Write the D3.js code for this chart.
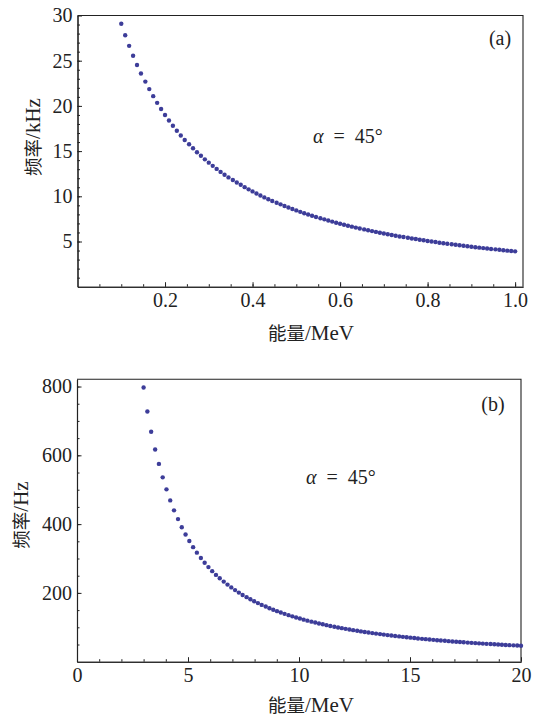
<!DOCTYPE html>
<html>
<head>
<meta charset="utf-8">
<script src="https://cdn.jsdelivr.net/npm/d3@7"></script>
<style>
    body { margin: 0; background: #fff; }
</style>
</head>
<body>
<div id="chart"></div>
<script>
// panel (a): energy in MeV, frequency in kHz
const energyA = [0.100, 0.109, 0.118, 0.127, 0.136, 0.145, 0.155, 0.164, 0.173, 0.182,
    0.191, 0.200, 0.209, 0.218, 0.227, 0.236, 0.245, 0.255, 0.264, 0.273,
    0.282, 0.291, 0.300, 0.309, 0.318, 0.327, 0.336, 0.345, 0.355, 0.364,
    0.373, 0.382, 0.391, 0.400, 0.409, 0.418, 0.427, 0.436, 0.445, 0.455,
    0.464, 0.473, 0.482, 0.491, 0.500, 0.509, 0.518, 0.527, 0.536, 0.545,
    0.555, 0.564, 0.573, 0.582, 0.591, 0.600, 0.609, 0.618, 0.627, 0.636,
    0.645, 0.655, 0.664, 0.673, 0.682, 0.691, 0.700, 0.709, 0.718, 0.727,
    0.736, 0.745, 0.755, 0.764, 0.773, 0.782, 0.791, 0.800, 0.809, 0.818,
    0.827, 0.836, 0.845, 0.855, 0.864, 0.873, 0.882, 0.891, 0.900, 0.909,
    0.918, 0.927, 0.936, 0.945, 0.955, 0.964, 0.973, 0.982, 0.991, 1.000];
const freqA = [29.08, 27.82, 26.64, 25.55, 24.53, 23.58, 22.69, 21.86, 21.08, 20.34,
    19.65, 19.00, 18.39, 17.80, 17.25, 16.73, 16.23, 15.76, 15.31, 14.88,
    14.48, 14.09, 13.72, 13.37, 13.03, 12.70, 12.39, 12.09, 11.81, 11.53,
    11.27, 11.01, 10.77, 10.54, 10.31, 10.09, 9.88, 9.68, 9.48, 9.29,
    9.11, 8.93, 8.76, 8.60, 8.44, 8.28, 8.13, 7.99, 7.85, 7.71,
    7.58, 7.45, 7.32, 7.20, 7.08, 6.97, 6.86, 6.75, 6.64, 6.54,
    6.44, 6.34, 6.24, 6.15, 6.06, 5.97, 5.89, 5.80, 5.72, 5.64,
    5.56, 5.49, 5.41, 5.34, 5.27, 5.20, 5.13, 5.06, 5.00, 4.94,
    4.87, 4.81, 4.75, 4.69, 4.64, 4.58, 4.53, 4.47, 4.42, 4.37,
    4.32, 4.27, 4.22, 4.17, 4.13, 4.08, 4.04, 3.99, 3.95, 3.91];

// panel (b): energy in MeV, frequency in Hz
const energyB = [3.00, 3.17, 3.34, 3.52, 3.69, 3.86, 4.03, 4.20, 4.37, 4.55,
    4.72, 4.89, 5.06, 5.23, 5.40, 5.58, 5.75, 5.92, 6.09, 6.26,
    6.43, 6.61, 6.78, 6.95, 7.12, 7.29, 7.46, 7.64, 7.81, 7.98,
    8.15, 8.32, 8.50, 8.67, 8.84, 9.01, 9.18, 9.35, 9.53, 9.70,
    9.87, 10.04, 10.21, 10.38, 10.56, 10.73, 10.90, 11.07, 11.24, 11.41,
    11.59, 11.76, 11.93, 12.10, 12.27, 12.44, 12.62, 12.79, 12.96, 13.13,
    13.30, 13.47, 13.65, 13.82, 13.99, 14.16, 14.33, 14.51, 14.68, 14.85,
    15.02, 15.19, 15.36, 15.54, 15.71, 15.88, 16.05, 16.22, 16.39, 16.57,
    16.74, 16.91, 17.08, 17.25, 17.42, 17.60, 17.77, 17.94, 18.11, 18.28,
    18.45, 18.63, 18.80, 18.97, 19.14, 19.31, 19.48, 19.66, 19.83, 20.00];
const freqB = [797.0, 727.5, 668.3, 617.0, 575.0, 536.0, 501.0, 469.0, 440.0, 414.5,
    391.0, 370.0, 351.0, 333.0, 317.0, 301.5, 287.8, 275.0, 263.2, 252.4,
    242.4, 232.9, 224.1, 216.0, 208.2, 200.9, 194.1, 187.7, 181.5, 175.8,
    170.3, 165.2, 160.3, 155.6, 151.2, 146.9, 142.9, 139.1, 135.4, 131.9,
    128.6, 125.4, 122.3, 119.3, 116.5, 113.8, 111.2, 108.7, 106.3, 104.0,
    101.7, 99.6, 97.5, 95.5, 93.6, 91.7, 89.9, 88.1, 86.5, 84.8,
    83.2, 81.7, 80.2, 78.8, 77.4, 76.1, 74.7, 73.5, 72.2, 71.0,
    69.9, 68.7, 67.6, 66.5, 65.5, 64.5, 63.5, 62.5, 61.6, 60.7,
    59.8, 58.9, 58.1, 57.2, 56.4, 55.6, 54.8, 54.1, 53.4, 52.6,
    51.9, 51.3, 50.6, 49.9, 49.3, 48.7, 48.1, 47.5, 46.9, 46.3];

// tick labels
const xTicksA = [0.2, 0.4, 0.6, 0.8, 1.0];
const yTicksA = [5, 10, 15, 20, 25, 30];
const xTicksB = [0, 5, 10, 15, 20];
const yTicksB = [200, 400, 600, 800];

const SERIF = "'Liberation Serif', 'DejaVu Serif', serif";
const CJK = "'Noto Sans CJK SC', 'Noto Sans CJK JP', sans-serif";

class DotPanel {

    constructor(svg, config) {
        this.svg = svg;
        Object.assign(this, config);
        this.displayData = this.energy.map((e, i) => ({e: e, f: this.freq[i]}));

        this.initVis();
    }

    initVis() {
        let vis = this;

        vis.x = d3.scaleLinear().domain(vis.xDomain).range([vis.left, vis.right]);
        vis.y = d3.scaleLinear().domain(vis.yDomain).range([vis.bottom, vis.top]);

        vis.g = vis.svg.append("g");

        // top and right frame lines (no ticks there)
        vis.g.append("path")
            .attr("d", `M${vis.left},${vis.top}H${vis.right}V${vis.bottom}`)
            .attr("fill", "none")
            .attr("stroke", "#222")
            .attr("stroke-width", 1.1);

        // minor ticks first, majors with labels on top
        let xAxisMinor = d3.axisBottom(vis.x).tickValues(vis.xMinor).tickSize(-2.5).tickFormat("");
        let xAxis = d3.axisBottom(vis.x).tickValues(vis.xTicks).tickSize(-4.5).tickPadding(6)
            .tickFormat(vis.xFormat);
        let yAxisMinor = d3.axisLeft(vis.y).tickValues(vis.yMinor).tickSize(-2.5).tickFormat("");
        let yAxis = d3.axisLeft(vis.y).tickValues(vis.yTicks).tickSize(-4.5).tickPadding(5);

        [[xAxisMinor, "x"], [xAxis, "x"], [yAxisMinor, "y"], [yAxis, "y"]].forEach(([ax, k]) => {
            let a = vis.g.append("g")
                .attr("transform", k === "x" ? `translate(0,${vis.bottom})` : `translate(${vis.left},0)`)
                .call(ax.tickSizeOuter(0))
                .attr("font-family", SERIF)
                .attr("font-size", 20);
            a.select(".domain").attr("stroke", "#222").attr("stroke-width", 1.1);
            a.selectAll(".tick line").attr("stroke", "#222");
            a.selectAll("text")
                .style("font-family", SERIF)
                .style("font-size", "20px")
                .attr("fill", "#222");
        });

        // points
        vis.g.append("g")
            .selectAll("circle")
            .data(vis.displayData)
            .enter().append("circle")
            .attr("cx", d => vis.x(d.e))
            .attr("cy", d => vis.y(d.f))
            .attr("r", 2.2)
            .attr("fill", "#3d3d99");

        // axis titles
        let xt = vis.g.append("text")
            .attr("x", vis.xTitle[0])
            .attr("y", vis.xTitle[1])
            .attr("text-anchor", "middle")
            .style("font-family", SERIF)
            .style("font-size", "21px")
            .attr("fill", "#222");
        xt.append("tspan").style("font-family", CJK).style("font-size", "18.5px").text("能量");
        xt.append("tspan").text("/MeV");

        let yt = vis.g.append("text")
            .attr("transform", `translate(${vis.yTitle[0]},${vis.yTitle[1]}) rotate(-90)`)
            .attr("text-anchor", "middle")
            .style("font-family", SERIF)
            .style("font-size", "21px")
            .attr("fill", "#222");
        yt.append("tspan").style("font-family", CJK).style("font-size", "18.5px").text("频率");
        yt.append("tspan").text(vis.yUnit);

        // panel tag and angle note
        vis.g.append("text")
            .attr("x", vis.tag[0])
            .attr("y", vis.tag[1])
            .attr("text-anchor", "middle")
            .style("font-family", SERIF)
            .style("font-size", "20px")
            .attr("fill", "#222")
            .text(vis.tagText);

        let note = vis.g.append("text")
            .attr("x", vis.note[0])
            .attr("y", vis.note[1])
            .style("font-family", SERIF)
            .style("font-size", "20px")
            .attr("fill", "#222");
        note.append("tspan").style("font-style", "italic").text("α");
        note.append("tspan").text("\u2002=\u200245°");
    }
}

let svg = d3.select("#chart").append("svg")
    .attr("width", 534)
    .attr("height", 722)
    .attr("font-family", SERIF);

new DotPanel(svg, {
    energy: energyA, freq: freqA,
    left: 77.5, right: 523, top: 15.5, bottom: 286.7,
    xDomain: [0, 1.018], yDomain: [0, 30],
    xTicks: xTicksA, yTicks: yTicksA,
    xMinor: d3.range(0.05, 1.01, 0.05), yMinor: d3.range(1, 30, 1),
    xFormat: d3.format(".1f"),
    xTitle: [311, 340], yTitle: [40, 137], yUnit: "/kHz",
    tag: [500, 45], tagText: "(a)",
    note: [313, 143]
});

new DotPanel(svg, {
    energy: energyB, freq: freqB,
    left: 77, right: 521, top: 379.3, bottom: 661.7,
    xDomain: [0, 20], yDomain: [0, 821],
    xTicks: xTicksB, yTicks: yTicksB,
    xMinor: d3.range(1, 20, 1), yMinor: d3.range(50, 821, 50),
    xFormat: d3.format("d"),
    xTitle: [311, 712], yTitle: [28, 515], yUnit: "/Hz",
    tag: [493, 411], tagText: "(b)",
    note: [306, 484]
});
</script>
</body>
</html>
